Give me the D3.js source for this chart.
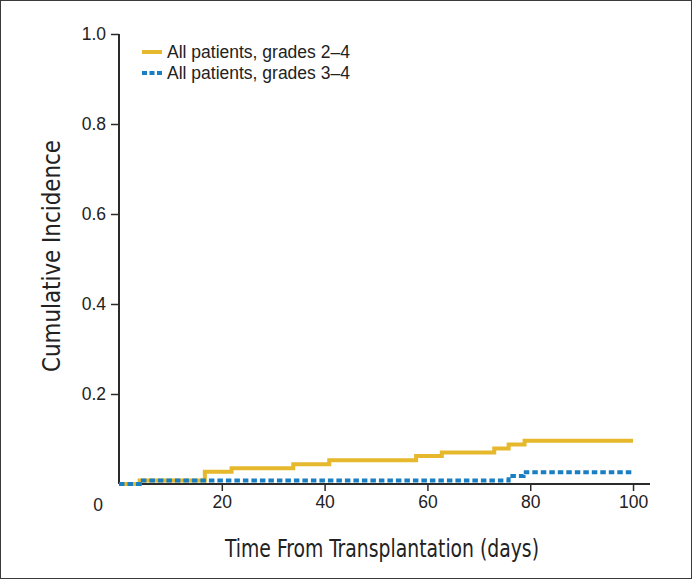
<!DOCTYPE html>
<html><head><meta charset="utf-8">
<script src="https://cdn.jsdelivr.net/npm/d3@7"></script>
<style>
html,body{margin:0;padding:0;background:#fff;}
svg{display:block;}
</style></head>
<body>
<svg id="chart" width="692" height="579"></svg>
<script>
// ---- data ----
const seriesNames = ["All patients, grades 2\u20134", "All patients, grades 3\u20134"];
const days24 = [0, 4, 16.7, 21.9, 33.9, 40.9, 57.8, 62.8, 73.0, 75.8, 78.9, 100];
const inc24  = [0, 0.008, 0.027, 0.035, 0.044, 0.053, 0.062, 0.070, 0.079, 0.088, 0.096, 0.096];
const days34 = [0, 4, 75.8, 78.7, 100];
const inc34  = [0, 0.008, 0.018, 0.026, 0.026];
const xTicks = [20, 40, 60, 80, 100];
const yTicks = [0.2, 0.4, 0.6, 0.8, 1.0];

const svg = d3.select("#chart");
const W = 692, H = 579;
const yellow = "#E6B82C", blue = "#1A7EC2", axisCol = "#2b2b2b";

svg.append("rect").attr("x",0.5).attr("y",0.5).attr("width",W-1).attr("height",H-1)
  .attr("fill","#fff").attr("stroke","#3a3a3a").attr("stroke-width",1);

const x = d3.scaleLinear().domain([0, 103.3]).range([119, 650]);
const y = d3.scaleLinear().domain([0, 1]).range([484, 34]);

const font = "'Liberation Sans', Arial, Helvetica, sans-serif";

// x axis
const xAxis = svg.append("g").attr("transform", `translate(0,${y(0)})`)
  .call(d3.axisBottom(x).tickValues(xTicks).tickSize(7).tickPadding(5).tickFormat(d3.format("d")));
xAxis.select(".domain").attr("d", `M${x(0)},0H${x.range()[1]}`).attr("stroke", axisCol).attr("stroke-width", 2);
xAxis.selectAll(".tick line").attr("stroke", axisCol).attr("stroke-width", 1.5);
xAxis.selectAll(".tick text").attr("font-family", font).attr("font-size", 17.5).attr("fill", "#222");

// y axis
const yAxis = svg.append("g").attr("transform", `translate(${x(0)},0)`)
  .call(d3.axisLeft(y).tickValues(yTicks).tickSize(8).tickPadding(5).tickFormat(d3.format(".1f")));
yAxis.select(".domain").attr("d", `M0,${y(0)}V${y(1)}`).attr("stroke", axisCol).attr("stroke-width", 2);
yAxis.selectAll(".tick line").attr("stroke", axisCol).attr("stroke-width", 1.5);
yAxis.selectAll(".tick text").attr("font-family", font).attr("font-size", 17.5).attr("fill", "#222");

// origin label
svg.append("text").attr("x", 98).attr("y", 511).attr("text-anchor","middle")
  .attr("font-family", font).attr("font-size", 17.5).attr("fill","#222").text("0");

// curves
const line = d3.line().x(d => x(d[0])).y(d => y(d[1])).curve(d3.curveStepAfter);
svg.append("path").datum(d3.zip(days24, inc24)).attr("d", line)
  .attr("fill","none").attr("stroke", yellow).attr("stroke-width", 4);
svg.append("path").datum(d3.zip(days34, inc34)).attr("d", line)
  .attr("fill","none").attr("stroke", blue).attr("stroke-width", 4).attr("stroke-dasharray","5.5,3");

// legend
const leg = svg.append("g");
const legY = [52, 73];
leg.append("line").attr("x1",142).attr("x2",162).attr("y1",legY[0]).attr("y2",legY[0])
  .attr("stroke",yellow).attr("stroke-width",4);
leg.append("line").attr("x1",142).attr("x2",162).attr("y1",legY[1]).attr("y2",legY[1])
  .attr("stroke",blue).attr("stroke-width",4).attr("stroke-dasharray","5,2.5");
seriesNames.forEach((n,i) => {
  leg.append("text").attr("x",167).attr("y",legY[i]+6)
    .attr("font-family", font).attr("font-size",17.5).attr("fill","#222").text(n);
});

// axis titles
const condFont = "'Liberation Sans Narrow', 'Arial Narrow', 'DejaVu Sans Condensed', sans-serif";
svg.append("text").attr("x", 382).attr("y", 557).attr("text-anchor","middle")
  .attr("font-family", condFont).attr("font-size", 25).attr("fill","#222")
  .attr("textLength", 314).attr("lengthAdjust","spacingAndGlyphs")
  .text("Time From Transplantation (days)");
svg.append("text").attr("transform","translate(60,256) rotate(-90)").attr("text-anchor","middle")
  .attr("font-family", condFont).attr("font-size", 25).attr("fill","#222")
  .attr("textLength", 232).attr("lengthAdjust","spacingAndGlyphs")
  .text("Cumulative Incidence");
</script>
</body></html>
